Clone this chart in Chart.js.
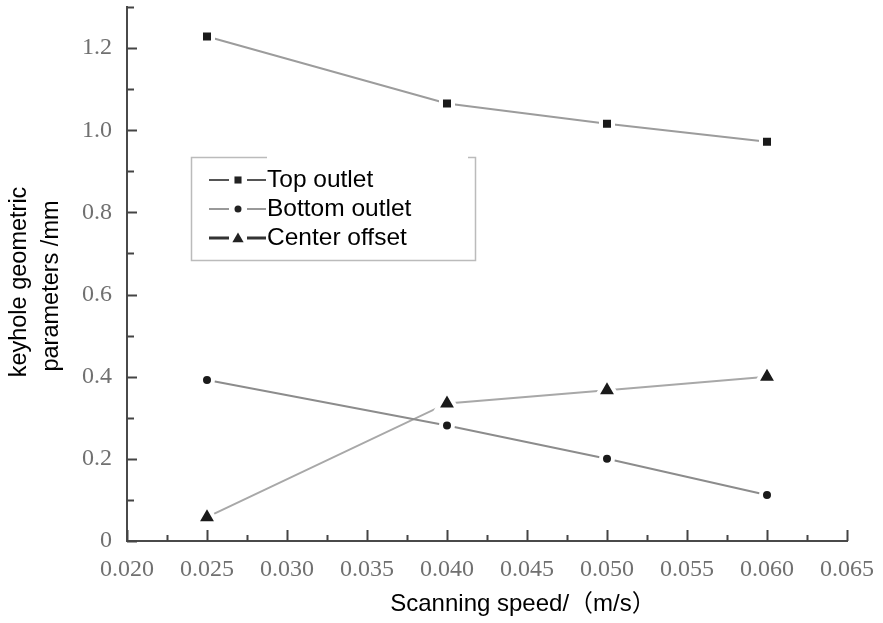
<!DOCTYPE html>
<html>
<head>
<meta charset="utf-8">
<script src="https://cdn.jsdelivr.net/npm/chart.js@4.4.1/dist/chart.umd.min.js"></script>
<style>
  html, body { margin: 0; padding: 0; background: #fff; }
  canvas { display: block; }
</style>
</head>
<body>
<canvas id="chart" width="883" height="623"></canvas>
<script>
// Scanning speed (m/s) and measured keyhole geometry (mm)
const speeds = [0.025, 0.040, 0.050, 0.060];
const topOutlet = [1.228, 1.065, 1.016, 0.972];
const bottomOutlet = [0.392, 0.281, 0.200, 0.112];
const centerOffset = [0.058, 0.335, 0.367, 0.400];
const seriesNames = ['Top outlet', 'Bottom outlet', 'Center offset'];
const yTitleLines = ['keyhole geometric', 'parameters /mm'];
const xTitleText = 'Scanning speed/\uFF08m/s\uFF09';

const points = vals => speeds.map((s, i) => ({ x: s, y: vals[i] }));
const isMultiple = (v, step) => Math.abs(Math.round(v / step) * step - v) < 1e-9;

const SANS = '"Liberation Sans", Arial, "Noto Sans CJK SC", sans-serif';
const SERIF = '"Liberation Serif", "Times New Roman", serif';

// Legend sample styles (line colour/width next to each marker)
const legendStyle = [
  { color: '#555', width: 2, style: 'rect', radius: 5 },
  { color: '#999', width: 2, style: 'circle', radius: 3.5 },
  { color: '#333', width: 3, style: 'triangle', radius: 6.5 }
];

// Inward ticks, axis titles and the boxed legend
const decor = {
  id: 'decor',
  afterDraw(chart) {
    const ctx = chart.ctx;
    const xs = chart.scales.x, ys = chart.scales.y;
    const area = chart.chartArea;
    ctx.save();
    ctx.strokeStyle = '#444';
    ctx.lineWidth = 2;
    xs.ticks.forEach(t => {
      const px = Math.round(xs.getPixelForValue(t.value)) + 0.5;
      const len = isMultiple(t.value, 0.005) ? 11 : 6;
      ctx.beginPath();
      ctx.moveTo(px, area.bottom);
      ctx.lineTo(px, area.bottom - len);
      ctx.stroke();
    });
    ys.ticks.forEach(t => {
      const py = Math.round(ys.getPixelForValue(t.value)) + 0.5;
      const len = isMultiple(t.value, 0.2) ? 10 : 7;
      ctx.beginPath();
      ctx.moveTo(area.left, py);
      ctx.lineTo(area.left + len, py);
      ctx.stroke();
    });

    // axis titles
    ctx.fillStyle = '#000';
    ctx.font = '24px ' + SANS;
    ctx.textAlign = 'center';
    ctx.textBaseline = 'middle';
    ctx.fillText(xTitleText, 523, 604);
    ctx.font = '23.5px ' + SANS;
    const yTitlePos = [[20, 282], [52, 286]];
    yTitleLines.forEach((line, i) => {
      ctx.save();
      ctx.translate(yTitlePos[i][0], yTitlePos[i][1]);
      ctx.rotate(-Math.PI / 2);
      ctx.fillText(line, 0, 0);
      ctx.restore();
    });

    // legend frame
    ctx.strokeStyle = '#bbb';
    ctx.lineWidth = 1.5;
    ctx.beginPath();
    ctx.moveTo(267, 157.5);
    ctx.lineTo(191.5, 157.5);
    ctx.lineTo(191.5, 260.5);
    ctx.lineTo(475.5, 260.5);
    ctx.lineTo(475.5, 157.5);
    ctx.lineTo(468, 157.5);
    ctx.stroke();

    // legend entries
    chart.data.datasets.forEach((ds, i) => {
      const st = legendStyle[i];
      const cy = 180 + i * 29;
      ctx.strokeStyle = st.color;
      ctx.lineWidth = st.width;
      ctx.beginPath();
      ctx.moveTo(209, cy); ctx.lineTo(229, cy);
      ctx.moveTo(247, cy); ctx.lineTo(266, cy);
      ctx.stroke();
      ctx.fillStyle = '#222';
      Chart.helpers.drawPoint(ctx, { pointStyle: st.style, radius: st.radius, rotation: 0, borderWidth: 0 }, 238, cy + (st.style === 'triangle' ? 1 : 0));
      ctx.fillStyle = '#000';
      ctx.font = '24.5px ' + SANS;
      ctx.textAlign = 'left';
      ctx.textBaseline = 'middle';
      ctx.fillText(ds.label, 267, cy);
    });
    ctx.restore();
  }
};

const common = {
  showLine: true,
  fill: false,
  tension: 0,
  borderWidth: 2,
  pointBackgroundColor: '#1a1a1a',
  pointBorderColor: '#fff',
  pointBorderWidth: 4,
  pointHoverRadius: 0
};

new Chart(document.getElementById('chart'), {
  type: 'line',
  data: {
    datasets: [
      Object.assign({}, common, { label: seriesNames[0], data: points(topOutlet), borderColor: '#9c9c9c', pointStyle: 'rect', pointRadius: 8.5 }),
      Object.assign({}, common, { label: seriesNames[1], data: points(bottomOutlet), borderColor: '#8c8c8c', pointStyle: 'circle', pointRadius: 6 }),
      Object.assign({}, common, { label: seriesNames[2], data: points(centerOffset), borderColor: '#a8a8a8', pointStyle: 'triangle', pointRadius: 12 })
    ]
  },
  options: {
    responsive: false,
    animation: false,
    devicePixelRatio: 1,
    layout: { autoPadding: false, padding: { top: 7, right: 36, left: 0, bottom: 0 } },
    plugins: { legend: { display: false }, tooltip: { enabled: false } },
    scales: {
      x: {
        type: 'linear',
        min: 0.020,
        max: 0.065,
        grid: { display: false, drawTicks: false },
        border: { display: true, color: '#4a4a4a', width: 2 },
        ticks: {
          stepSize: 0.0025,
          autoSkip: false,
          maxRotation: 0,
          padding: 14,
          color: '#707070',
          font: { family: SERIF, size: 24 },
          callback: v => isMultiple(v, 0.005) ? v.toFixed(3) : ''
        },
        afterFit: s => { s.height = 82; s.paddingLeft = 0; s.paddingRight = 0; }
      },
      y: {
        type: 'linear',
        min: 0,
        max: 1.3,
        grid: { display: false, drawTicks: false },
        border: { display: true, color: '#4a4a4a', width: 2 },
        ticks: {
          stepSize: 0.1,
          autoSkip: false,
          padding: 15,
          color: '#707070',
          font: { family: SERIF, size: 24, lineHeight: 0.4 },
          callback: v => isMultiple(v, 0.2) ? (Math.abs(v) < 1e-9 ? '0' : v.toFixed(1)) : ''
        },
        afterFit: s => { s.width = 127; s.paddingTop = 0; s.paddingBottom = 0; }
      }
    }
  },
  plugins: [decor]
});
</script>
</body>
</html>
